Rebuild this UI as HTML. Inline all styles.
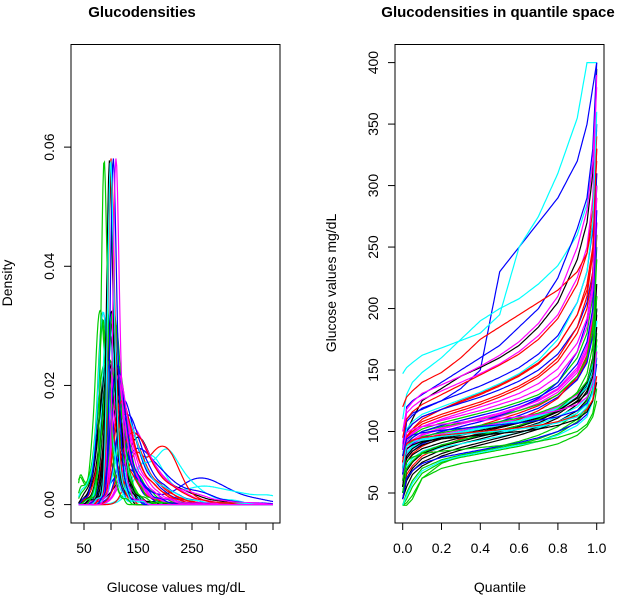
<!DOCTYPE html>
<html><head><meta charset="utf-8"><style>
body{margin:0;background:#fff}
svg{display:block;font-family:"Liberation Sans",sans-serif}
</style></head><body>
<svg id="chart" width="640" height="598" viewBox="0 0 640 598">
<defs>
<clipPath id="clipL"><rect x="71" y="44.5" width="209" height="478.5"/></clipPath>
<clipPath id="clipR"><rect x="395" y="44.5" width="209" height="478.5"/></clipPath>
</defs>
<g id="left"><g id="leftCurves" clip-path="url(#clipL)"></g></g>
<g id="right"><g id="rightCurves" clip-path="url(#clipR)"></g></g>
</svg>
<script>
// Probability levels at which each subject's quantiles were read
const probs = [0,0.02,0.05,0.1,0.2,0.3,0.4,0.5,0.6,0.7,0.8,0.9,0.95,0.98,1];
// Quantile values (mg/dL) per subject
const subjects = [
[45,55,65,72,80,85,89,93,97,102,108,117,126,140,175],
[60,75,82,88,95,100,105,110,115,121,130,143,158,180,260],
[40,42,48,62,70,74,77,80,83,86,90,97,104,112,125],
[70,110,115,118,125,135,150,230,250,270,290,320,350,380,400],
[147,152,156,162,168,174,180,195,250,275,310,355,400,400,400],
[55,80,88,95,100,104,108,112,117,123,132,148,165,190,240],
[50,62,70,78,85,90,94,98,102,107,114,125,136,152,200],
[75,95,102,110,118,125,131,138,146,156,170,195,220,250,330],
[40,40,45,62,74,80,84,88,92,97,104,115,125,140,170],
[60,78,84,90,96,100,104,108,113,119,128,142,156,178,250],
[110,130,140,148,160,175,190,200,208,220,235,260,285,320,345],
[60,85,90,94,98,101,104,107,110,114,120,130,140,160,200],
[80,100,110,125,135,145,152,160,170,185,205,240,270,310,395],
[45,65,72,80,88,94,99,104,110,117,127,145,162,190,270],
[70,92,97,102,107,111,115,119,124,130,140,160,180,210,300],
[85,120,125,130,140,150,160,170,185,200,225,265,290,330,400],
[50,70,76,82,87,90,93,96,99,103,108,115,122,135,170],
[65,88,93,98,103,107,111,115,120,126,135,152,170,200,280],
[55,75,81,86,91,95,98,101,105,110,117,128,140,158,210],
[80,100,106,112,118,124,130,137,145,155,170,195,215,245,310],
[40,45,55,66,75,79,82,85,88,92,98,108,118,135,180],
[75,100,106,112,118,123,128,134,141,150,163,185,205,230,300],
[60,82,87,92,96,99,102,105,108,112,118,128,138,155,200],
[90,115,120,126,133,140,147,155,165,178,195,225,250,290,390],
[45,60,68,75,82,87,91,95,99,104,111,122,133,150,200],
[120,128,133,140,148,160,175,185,195,205,215,230,245,270,320],
[70,90,95,100,104,107,110,113,117,122,130,145,160,185,260],
[65,85,90,95,100,104,108,113,119,127,140,165,190,225,310],
[50,72,78,84,89,93,96,99,102,106,112,120,128,142,190],
[100,118,124,131,138,145,153,162,173,188,210,250,280,320,380],
[55,78,84,89,94,97,100,103,107,111,117,127,137,152,195],
[75,95,100,106,112,117,122,128,135,144,157,180,200,230,290],
[40,50,60,70,77,81,84,87,90,94,100,110,120,135,175],
[85,108,113,119,125,131,137,144,152,163,178,205,230,265,350],
[60,83,88,93,97,100,103,106,109,113,119,128,136,150,190],
[70,92,98,104,110,115,120,125,131,139,151,172,192,220,290],
[50,68,75,82,88,92,96,100,104,109,116,128,140,160,220],
[95,110,116,122,130,138,146,154,163,175,192,220,245,280,340],
[65,88,92,96,99,102,105,108,111,115,121,131,141,158,210],
[45,62,68,74,79,82,85,88,91,95,100,107,114,125,160],
[80,102,108,114,120,126,132,139,147,158,175,205,230,270,360],
[60,85,91,97,102,106,110,114,119,125,134,150,167,195,270],
[55,80,86,91,95,98,101,104,107,111,116,124,131,145,185],
[75,96,102,108,114,119,124,130,137,146,160,185,210,245,330],
[50,70,76,83,89,93,97,101,105,110,118,132,147,170,240],
[65,90,95,100,105,109,113,117,122,128,137,155,173,200,280],
[40,48,58,68,76,80,83,86,89,92,97,105,112,125,165],
[70,94,99,104,109,113,117,122,127,134,145,165,185,215,300],
[70,86,89,92,94,95.5,97,98.5,100,102,105,110,116,125,140],
[75,90,93,95,97,98.5,100,101.5,103,105,108,113,118,126,145],
[60,76,79,82,84,85.5,87,88.5,90,92,95,100,106,115,135],
[80,94,97,99,101,102.5,104,105.5,107,109,112,117,123,132,155],
[70,88,91,94,96,97.5,99,100.5,102,104,107,112,120,132,165],
[85,99,102,104,106,107.5,109,110.5,112,114,117,122,128,138,165]
];
const palette = ["#000000","#ff0000","#00cd00","#0000ff","#00ffff","#ff00ff"];
const densTicks = [0,0.02,0.04,0.06];
const densTickLabels = ["0.00","0.02","0.04","0.06"];
const glucTicks = [50,100,150,200,250,300,350,400];
const glucTickLabels = ["50","","150","","250","","350",""];
const qTicks = [0,0.2,0.4,0.6,0.8,1];
const qTickLabels = ["0.0","0.2","0.4","0.6","0.8","1.0"];
const qyTicks = [50,100,150,200,250,300,350,400];
const qyTickLabels = ["50","100","150","200","250","300","350","400"];

const NS="http://www.w3.org/2000/svg";
function mk(tag,attrs,parent,text){const e=document.createElementNS(NS,tag);for(const k in attrs)e.setAttribute(k,attrs[k]);if(text!==undefined)e.textContent=text;parent.appendChild(e);return e;}

const lx = v => 84 + (v-50)*(273-84)/350;
const ly = v => 504.6 - v*5958;
const rx = v => 402.7 + v*194;
const ry = v => 493 - (v-50)*1.2297;

function qfun(q,p){for(let i=1;i<probs.length;i++){if(p<=probs[i]){const t=(p-probs[i-1])/(probs[i]-probs[i-1]);return q[i-1]+t*(q[i]-q[i-1]);}}return q[q.length-1];}

const L=document.getElementById('left'), R=document.getElementById('right');
const LC=document.getElementById('leftCurves'), RC=document.getElementById('rightCurves');

const t1=mk('text',{x:142,y:17,'text-anchor':'middle','font-size':15,'font-weight':'bold'},L,'Glucodensities');


const t2=mk('text',{x:498,y:17,'text-anchor':'middle','font-size':15,'font-weight':'bold'},R,'Glucodensities in quantile space');



const grid=[];for(let g=40;g<=400;g+=1.5)grid.push(g);
subjects.forEach((q,si)=>{
  const n=300, s=[];for(let i=0;i<n;i++)s.push(qfun(q,(i+0.5)/n));
  const m=s.reduce((a,b)=>a+b,0)/n;const sd=Math.sqrt(s.reduce((a,b)=>a+(b-m)*(b-m),0)/(n-1));
  const iqr=qfun(q,0.75)-qfun(q,0.25);
  const bw=Math.max(3.2,0.9*Math.min(sd,iqr/1.34)*Math.pow(n,-0.2));
  let d='';
  grid.forEach((g,gi)=>{let acc=0;for(const v of s){const z=(g-v)/bw;if(z*z<30)acc+=Math.exp(-0.5*z*z);}
    const dens=acc/(n*bw*Math.sqrt(2*Math.PI));
    d+=(gi?'L':'M')+lx(g).toFixed(1)+','+ly(dens).toFixed(1);});
  const p=mk('path',{d:d,fill:'none',stroke:palette[si%6],'stroke-width':1.2},LC);
  
  
});
subjects.forEach((q,si)=>{
  let d='';
  for(let i=0;i<=100;i++){const pp=i/100;d+=(i?'L':'M')+rx(pp).toFixed(1)+','+ry(qfun(q,pp)).toFixed(1);}
  const p=mk('path',{d:d,fill:'none',stroke:palette[si%6],'stroke-width':1.2},RC);
  
  
});

const f1=mk('rect',{x:71,y:44.5,width:209,height:478.5,fill:'none',stroke:'#000','stroke-width':1},L);


const f2=mk('rect',{x:395,y:44.5,width:209,height:478.5,fill:'none',stroke:'#000','stroke-width':1},R);



mk('line',{x1:lx(50),x2:lx(400),y1:523,y2:523,stroke:'#000'},L);
glucTicks.forEach((v,i)=>{mk('line',{x1:lx(v),x2:lx(v),y1:523,y2:530,stroke:'#000'},L);
  if(glucTickLabels[i]){const t=mk('text',{x:lx(v),y:553,'text-anchor':'middle','font-size':14},L,glucTickLabels[i]);
  
  }});
mk('line',{x1:71,x2:71,y1:ly(0),y2:ly(0.06),stroke:'#000'},L);
densTicks.forEach((v,i)=>{mk('line',{x1:64,x2:71,y1:ly(v),y2:ly(v),stroke:'#000'},L);
  const t=mk('text',{x:0,y:0,'text-anchor':'middle','font-size':14,transform:`translate(54,${ly(v)}) rotate(-90)`},L,densTickLabels[i]);
  
  });
const xl=mk('text',{x:176,y:592,'text-anchor':'middle','font-size':14},L,'Glucose values mg/dL');


const yl=mk('text',{x:0,y:0,'text-anchor':'middle','font-size':14,transform:'translate(12,283) rotate(-90)'},L,'Density');



mk('line',{x1:rx(0),x2:rx(1),y1:523,y2:523,stroke:'#000'},R);
qTicks.forEach((v,i)=>{mk('line',{x1:rx(v),x2:rx(v),y1:523,y2:530,stroke:'#000'},R);
  const t=mk('text',{x:rx(v),y:553,'text-anchor':'middle','font-size':14},R,qTickLabels[i]);
  
  });
mk('line',{x1:395,x2:395,y1:ry(50),y2:ry(400),stroke:'#000'},R);
qyTicks.forEach((v,i)=>{mk('line',{x1:388,x2:395,y1:ry(v),y2:ry(v),stroke:'#000'},R);
  const t=mk('text',{x:0,y:0,'text-anchor':'middle','font-size':14,transform:`translate(378,${ry(v)}) rotate(-90)`},R,qyTickLabels[i]);
  
  });
const xr=mk('text',{x:500,y:592,'text-anchor':'middle','font-size':14},R,'Quantile');


const yr=mk('text',{x:0,y:0,'text-anchor':'middle','font-size':14,transform:'translate(336,283) rotate(-90)'},R,'Glucose values mg/dL');


</script>
</body></html>
